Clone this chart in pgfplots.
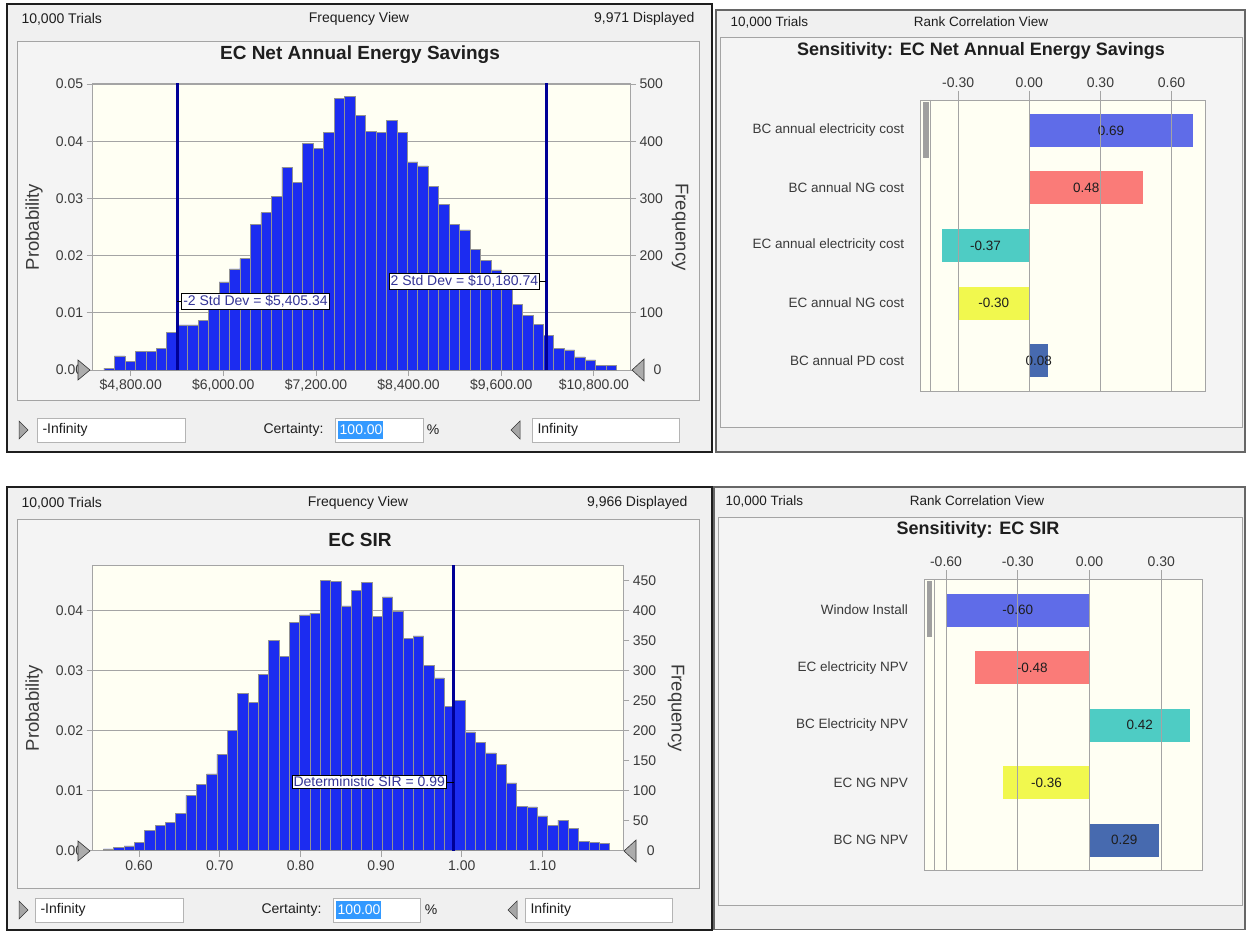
\documentclass[border=0pt]{standalone}
\usepackage{pgfplots}
\pgfplotsset{compat=1.18}
\usepackage{pgfplotstable}
\usepackage{fontspec}
\setmainfont{Liberation Sans}
\definecolor{winbg}{HTML}{F0F0F0}
\definecolor{framebg}{HTML}{F4F4F4}
\definecolor{plotbg}{HTML}{FFFFF3}
\definecolor{barblue}{RGB}{28,44,240}
\definecolor{sdline}{RGB}{0,0,150}
\definecolor{lbl}{RGB}{52,52,150}
\definecolor{tb1}{HTML}{5260E8}
\definecolor{tb2}{HTML}{FA706E}
\definecolor{tb3}{HTML}{40C8C0}
\definecolor{tb4}{HTML}{F0F840}
\definecolor{tb5}{HTML}{385EAA}
\definecolor{gridc}{HTML}{A4A4A4}
\definecolor{txt}{HTML}{1E1E1E}
\definecolor{txtg}{HTML}{3A3A3A}
\definecolor{selblue}{HTML}{3399FF}
\definecolor{boxc}{HTML}{B4B4B4}
\newcommand{\fH}{\fontsize{14}{16}\selectfont}
\newcommand{\fT}{\fontsize{19}{22}\selectfont\bfseries}
\newcommand{\fL}{\fontsize{18.5}{21}\selectfont}
\newcommand{\fR}{\fontsize{13.5}{15}\selectfont}
\newcommand{\fTR}{\fontsize{18}{21}\selectfont\bfseries}

\pgfplotstableread{
x y
4521.75 3.5
4657.25 24.5
4792.75 15
4928.25 33
5063.75 33
5199.25 38
5334.75 66
5470.25 79
5605.75 79
5741.25 87
5876.75 108
6012.25 154
6147.75 177
6283.25 195
6418.75 254
6554.25 275
6689.75 304
6825.25 355
6960.75 328
7096.25 396
7231.75 387
7367.25 416
7502.75 475
7638.25 478
7773.75 446
7909.25 418
8044.75 416
8180.25 437
8315.75 416
8451.25 364
8586.75 357
8722.25 321
8857.75 289
8993.25 255
9128.75 245
9264.25 211
9399.75 192
9535.25 175
9670.75 145
9806.25 115
9941.75 95
10077.25 80
10212.75 61
10348.25 38
10483.75 35
10619.25 23
10754.75 17.5
10890.25 8
11025.75 8
}\histA

\pgfplotstableread{
x y
0.5622 3
0.5750 5.5
0.5878 8
0.6006 14
0.6134 34
0.6262 42
0.6390 47
0.6518 62
0.6646 92
0.6774 111
0.6902 128
0.7030 161
0.7158 201
0.7286 262
0.7414 247
0.7542 294
0.7670 351
0.7798 324
0.7926 381
0.8054 393
0.8182 396
0.8310 451
0.8438 449
0.8566 408
0.8694 434
0.8822 447
0.8950 391
0.9078 423
0.9206 399
0.9334 354
0.9462 358
0.9590 309
0.9718 288
0.9846 241
0.9974 251
1.0102 198
1.0230 180
1.0358 163
1.0486 144
1.0614 113
1.0742 74
1.0870 73
1.0998 58
1.1126 42
1.1254 51
1.1382 37
1.1510 16
1.1638 14
1.1766 12
}\histB

\pgfplotsset{
  histbase/.style={scale only axis, anchor=south west, ymin=0,
    scaled x ticks=false, scaled y ticks=false,
    tick align=outside, major tick length=6pt,
    tick style={gridc, line width=0.8pt},
    axis line style={gridc, line width=0.8pt},
    tick label style={font=\fH, text=txtg}},
  hist/.style={histbase, axis background/.style={fill=plotbg},
    ymajorgrids, grid style={gridc, line width=0.8pt},
    xtick pos=bottom, ytick pos=left},
  histright/.style={histbase, axis x line=none, axis y line*=right,
    yticklabel style={anchor=west}},
  tor/.style={scale only axis, anchor=south west, axis on top,
    axis background/.style={fill=plotbg},
    axis line style={gridc, line width=0.8pt},
    xmajorgrids, grid style={gridc, line width=0.9pt},
    xtick pos=top, xticklabel pos=top, tick align=outside,
    major tick length=9pt, x tick style={gridc, line width=0.9pt},
    y tick style={draw=none}, y dir=reverse, ytick={1,2,3,4,5},
    xticklabel style={font=\fH, text=txtg},
    yticklabel style={font=\fR, text=txtg, xshift=-4pt}},
  tbar/.style={xbar, bar width=33pt, bar shift=0pt, draw=none, fill=#1, fill opacity=0.92}
}

\begin{document}
\begin{tikzpicture}[x=1pt, y=-1pt]
\fill[white] (0,0) rectangle (1247,931);

% ---------- windows ----------
\draw[fill=winbg, draw=txt, line width=2pt] (7,4) rectangle (712,452);
\draw[fill=winbg, draw=gray!80!black, line width=1.2pt] (716,10) rectangle (1245,452);
\draw[fill=winbg, draw=txt, line width=2pt] (7,487) rectangle (712,929.5);
\draw[fill=winbg, draw=gray!80!black, line width=1.2pt] (714,487) rectangle (1245,929.5);

\draw[fill=framebg, draw=gridc, line width=0.8pt] (17,41) rectangle (699,400);
\draw[fill=framebg, draw=gridc, line width=0.8pt] (17,519) rectangle (699,888);
\draw[fill=framebg, draw=gridc, line width=0.8pt] (720,37) rectangle (1242,427);
\draw[fill=framebg, draw=gridc, line width=0.8pt] (718,517) rectangle (1242,905);

% ---------- top-left: histogram ----------
\node[anchor=west, font=\fH, text=txt] at (18,19) {10,000 Trials};
\node[font=\fH, text=txt] at (359,19) {Frequency View};
\node[anchor=east, font=\fH, text=txt] at (698,19) {9,971 Displayed};
\node[font=\fT, text=txt] at (360,55) {EC Net Annual Energy Savings};
\node[rotate=90, font=\fL, text=txtg] at (34,227) {Probability};
\node[rotate=-90, font=\fL, text=txtg] at (680,227) {Frequency};

\begin{axis}[hist, at={(92.7pt,-370pt)}, width=537.3pt, height=287pt,
  xmin=4308, xmax=11268, ymax=502,
  xtick={4800,6000,7200,8400,9600,10800},
  xticklabels={{\$4,800.00},{\$6,000.00},{\$7,200.00},{\$8,400.00},{\$9,600.00},{\$10,800.00}},
  ytick={0,100,200,300,400,500},
  yticklabels={0.00,0.01,0.02,0.03,0.04,0.05}]
\addplot[ybar, bar width=135.5, bar shift=0pt, fill=barblue, draw=gray!85, line width=0.6pt] table {\histA};
\addplot[sdline, line width=3pt] coordinates {(5405.34,0) (5405.34,502)};
\addplot[sdline, line width=3pt] coordinates {(10180.74,0) (10180.74,502)};
\draw[black, line width=0.8pt] (axis cs:5405.34,120) -- (axis cs:5470,120);
\node[anchor=west, xshift=4pt, draw=black, fill=white, font=\fH, text=lbl, inner xsep=1.5pt, inner ysep=1.5pt, line width=0.8pt] at (axis cs:5405.34,120) {-2 Std Dev = \$5,405.34};
\draw[black, line width=0.8pt] (axis cs:10180.74,155) -- (axis cs:10090,155);
\node[anchor=east, xshift=-6pt, draw=black, fill=white, font=\fH, text=lbl, inner xsep=1.5pt, inner ysep=1.5pt, line width=0.8pt] at (axis cs:10180.74,155) {2 Std Dev = \$10,180.74};
\end{axis}
\begin{axis}[histright, at={(92.7pt,-370pt)}, width=537.3pt, height=287pt,
  xmin=4308, xmax=11268, ymax=502,
  ytick={0,100,200,300,400,500},
  yticklabels={{\hspace{14pt}0},100,200,300,400,500}]
\addplot[draw=none] coordinates {(5000,0)};
\end{axis}
\filldraw[fill=gray!65, draw=gray!40!black, line width=0.6pt] (78,360) -- (90,370) -- (78,380) -- cycle;
\filldraw[fill=gray!65, draw=gray!40!black, line width=0.6pt] (644,359) -- (632,370) -- (644,381) -- cycle;

% controls
\filldraw[fill=gray!70, draw=gray!40!black, line width=0.5pt] (19,421) -- (28,430) -- (19,439) -- cycle;
\draw[boxc, fill=white, line width=0.8pt] (37,418) rectangle (185,442);
\node[anchor=west, font=\fH, text=txt] at (39,430) {-Infinity};
\node[anchor=east, font=\fH, text=txt] at (327,430) {Certainty:};
\draw[boxc, fill=white, line width=0.8pt] (335,418) rectangle (423,442);
\fill[selblue] (338,421) rectangle (383,439);
\node[anchor=west, font=\fH, text=white, inner sep=0pt] at (339.5,430) {100.00};
\node[font=\fH, text=txt] at (433,430) {\%};
\filldraw[fill=gray!70, draw=gray!40!black, line width=0.5pt] (520,421) -- (511,430) -- (520,439) -- cycle;
\draw[boxc, fill=white, line width=0.8pt] (532,418) rectangle (679,442);
\node[anchor=west, font=\fH, text=txt] at (534,430) {Infinity};

% ---------- bottom-left: histogram ----------
\node[anchor=west, font=\fH, text=txt] at (18,503) {10,000 Trials};
\node[font=\fH, text=txt] at (358,503) {Frequency View};
\node[anchor=east, font=\fH, text=txt] at (691,503) {9,966 Displayed};
\node[font=\fT, text=txt] at (360,540) {EC SIR};
\node[rotate=90, font=\fL, text=txtg] at (34,708) {Probability};
\node[rotate=-90, font=\fL, text=txtg] at (676,708) {Frequency};

\begin{axis}[hist, at={(92.7pt,-850.7pt)}, width=530.6pt, height=285.7pt,
  xmin=0.5426, xmax=1.2001, ymax=476,
  xtick={0.6,0.7,0.8,0.9,1.0,1.1},
  xticklabels={0.60,0.70,0.80,0.90,1.00,1.10},
  ytick={0,100,200,300,400},
  yticklabels={0.00,0.01,0.02,0.03,0.04}]
\addplot[ybar, bar width=0.0128, bar shift=0pt, fill=barblue, draw=gray!85, line width=0.6pt] table {\histB};
\addplot[sdline, line width=3pt] coordinates {(0.99,0) (0.99,476)};
\draw[black, line width=0.8pt] (axis cs:0.99,114.5) -- (axis cs:0.980,114.5);
\node[anchor=east, xshift=-7pt, draw=black, fill=white, font=\fH, text=lbl, inner xsep=1.5pt, inner ysep=1.5pt, line width=0.8pt] at (axis cs:0.99,114.5) {Deterministic SIR = 0.99};
\end{axis}
\begin{axis}[histright, at={(92.7pt,-850.7pt)}, width=530.6pt, height=285.7pt,
  xmin=0.5426, xmax=1.2001, ymax=476,
  ytick={0,50,100,150,200,250,300,350,400,450},
  yticklabels={{\hspace{14pt}0},50,100,150,200,250,300,350,400,450}]
\addplot[draw=none] coordinates {(0.7,0)};
\end{axis}
\filldraw[fill=gray!65, draw=gray!40!black, line width=0.6pt] (78,841) -- (90,851) -- (78,861) -- cycle;
\filldraw[fill=gray!65, draw=gray!40!black, line width=0.6pt] (636,840) -- (624,851) -- (636,862) -- cycle;

% controls
\filldraw[fill=gray!70, draw=gray!40!black, line width=0.5pt] (19,901) -- (28,910) -- (19,919) -- cycle;
\draw[boxc, fill=white, line width=0.8pt] (35,898) rectangle (183,922);
\node[anchor=west, font=\fH, text=txt] at (37,910) {-Infinity};
\node[anchor=east, font=\fH, text=txt] at (325,910) {Certainty:};
\draw[boxc, fill=white, line width=0.8pt] (333,898) rectangle (420,922);
\fill[selblue] (336,901) rectangle (381,919);
\node[anchor=west, font=\fH, text=white, inner sep=0pt] at (337.5,910) {100.00};
\node[font=\fH, text=txt] at (431,910) {\%};
\filldraw[fill=gray!70, draw=gray!40!black, line width=0.5pt] (517,901) -- (508,910) -- (517,919) -- cycle;
\draw[boxc, fill=white, line width=0.8pt] (525,898) rectangle (672,922);
\node[anchor=west, font=\fH, text=txt] at (527,910) {Infinity};

% ---------- top-right: tornado ----------
\node[anchor=west, font=\fR, text=txt] at (727,22) {10,000 Trials};
\node[font=\fR, text=txt] at (981,22) {Rank Correlation View};
\node[font=\fTR, text=txt] at (981,51) {Sensitivity: EC Net Annual Energy Savings};

\begin{axis}[tor, at={(920.7pt,-391pt)}, width=285pt, height=291pt,
  xmin=-0.458, xmax=0.744, ymin=0.47, ymax=5.53,
  xtick={-0.3,0,0.3,0.6}, xticklabels={-0.30,0.00,0.30,0.60},
  yticklabels={BC annual electricity cost,BC annual NG cost,EC annual electricity cost,EC annual NG cost,BC annual PD cost}]
\addplot[tbar=tb1] coordinates {(0.69,1)};
\addplot[tbar=tb2] coordinates {(0.48,2)};
\addplot[tbar=tb3] coordinates {(-0.37,3)};
\addplot[tbar=tb4] coordinates {(-0.30,4)};
\addplot[tbar=tb5] coordinates {(0.08,5)};
\node[font=\fR, text=txt] at (axis cs:0.345,1) {0.69};
\node[font=\fR, text=txt] at (axis cs:0.24,2) {0.48};
\node[font=\fR, text=txt] at (axis cs:-0.185,3) {-0.37};
\node[font=\fR, text=txt] at (axis cs:-0.15,4) {-0.30};
\node[font=\fR, text=txt] at (axis cs:0.04,5) {0.08};
\end{axis}
\draw[gridc, line width=0.8pt] (930.7,100) -- (930.7,391);
\fill[gray!75] (923,102) rectangle (928.5,158);

% ---------- bottom-right: tornado ----------
\node[anchor=west, font=\fR, text=txt] at (722,501) {10,000 Trials};
\node[font=\fR, text=txt] at (977,501) {Rank Correlation View};
\node[font=\fTR, text=txt] at (978,530) {Sensitivity: EC SIR};

\begin{axis}[tor, at={(924.5pt,-870pt)}, width=277.5pt, height=291pt,
  xmin=-0.69, xmax=0.47, ymin=0.46, ymax=5.52,
  xtick={-0.6,-0.3,0,0.3}, xticklabels={-0.60,-0.30,0.00,0.30},
  yticklabels={Window Install,EC electricity NPV,BC Electricity NPV,EC NG NPV,BC NG NPV}]
\addplot[tbar=tb1] coordinates {(-0.60,1)};
\addplot[tbar=tb2] coordinates {(-0.48,2)};
\addplot[tbar=tb3] coordinates {(0.42,3)};
\addplot[tbar=tb4] coordinates {(-0.36,4)};
\addplot[tbar=tb5] coordinates {(0.29,5)};
\node[font=\fR, text=txt] at (axis cs:-0.30,1) {-0.60};
\node[font=\fR, text=txt] at (axis cs:-0.24,2) {-0.48};
\node[font=\fR, text=txt] at (axis cs:0.21,3) {0.42};
\node[font=\fR, text=txt] at (axis cs:-0.18,4) {-0.36};
\node[font=\fR, text=txt] at (axis cs:0.145,5) {0.29};
\end{axis}
\draw[gridc, line width=0.8pt] (934.6,579) -- (934.6,870);
\fill[gray!75] (926.5,581) rectangle (932,637);
\end{tikzpicture}
\end{document}
